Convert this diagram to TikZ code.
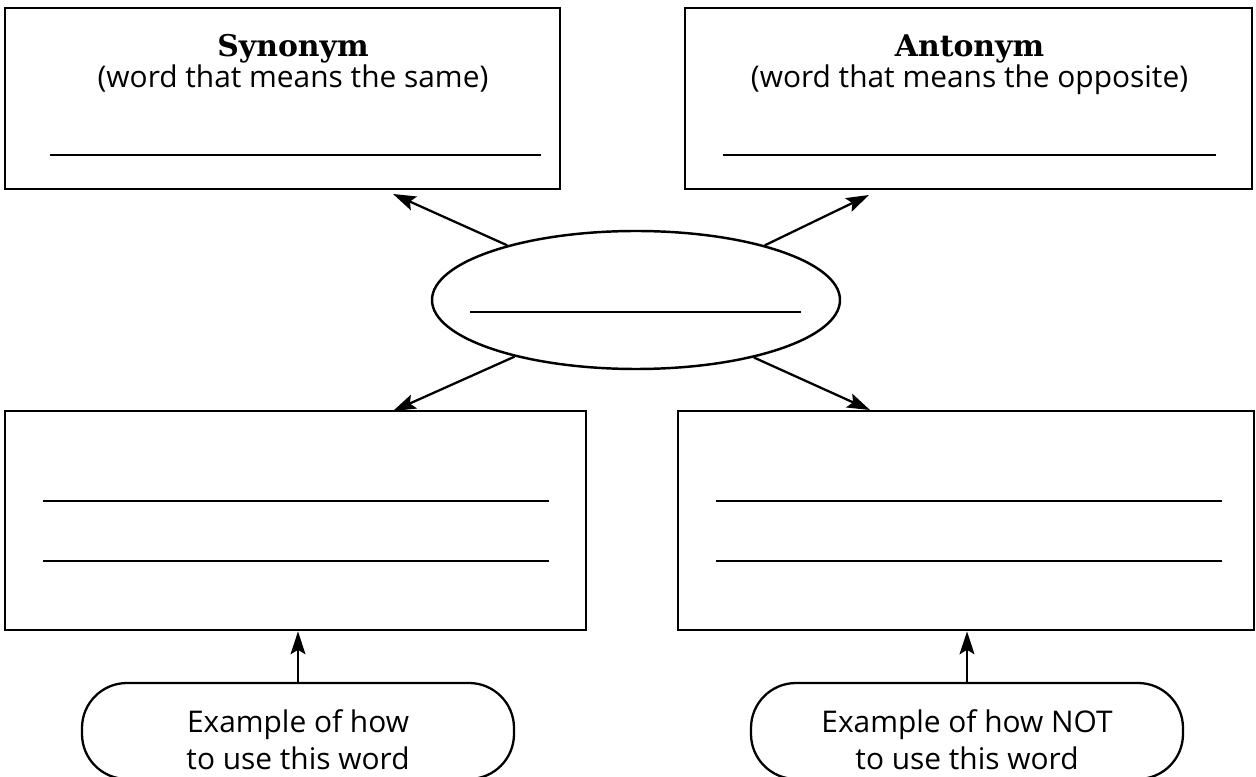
\documentclass[tikz,border=0pt]{standalone}
\usepackage{fontspec}
\setmainfont{Open Sans}
\newfontfamily\headfont{DejaVu Serif}
\usetikzlibrary{arrows.meta,shapes.geometric}

\begin{document}
\begin{tikzpicture}[
    box/.style={draw,line width=1.6pt,inner sep=0pt},
    tag/.style={draw,line width=1.3pt,rounded corners=0.9cm,inner sep=0pt},
    link/.style={line width=1.3pt,-{Stealth[length=13pt,width=8.5pt,inset=2.5pt]}},
    blank/.style={line width=1.4pt},
    head/.style={font=\headfont\bfseries\fontsize{17}{19}\selectfont,anchor=base},
    note/.style={font=\fontsize{17}{21}\selectfont,align=center}]
   \useasboundingbox (0,0) rectangle (25.12,-15.54);
   \clip (0,0) rectangle (25.12,-15.54);
   % top boxes
   \node[box,minimum width=11.1cm,minimum height=3.62cm] (syn) at (5.65,-1.97) {};
   \node[box,minimum width=11.34cm,minimum height=3.62cm] (ant) at (19.37,-1.97) {};
   \node[head] (synHead) at (5.86,-1.14) {Synonym};
   \node[note,anchor=base] (synSub) at (5.86,-1.76) {(word that means the same)};
   \node[head] (antHead) at (19.39,-1.14) {Antonym};
   \node[note,anchor=base] (antSub) at (19.39,-1.76) {(word that means the opposite)};
   \draw[blank,line width=0.9pt] (1.0,-3.1) -- (10.82,-3.1);
   \draw[blank,line width=0.9pt] (14.46,-3.1) -- (24.32,-3.1);
   % the word
   \node[draw,ellipse,line width=1.4pt,minimum width=8.16cm,minimum height=2.76cm] (word) at (12.72,-6.0) {};
   \draw[blank,line width=1.1pt] (9.4,-6.24) -- (16.02,-6.24);
   % bottom boxes
   \node[box,minimum width=11.62cm,minimum height=4.38cm] (use) at (5.91,-10.41) {};
   \node[box,minimum width=11.52cm,minimum height=4.38cm] (misuse) at (19.32,-10.41) {};
   \foreach \y in {-10.02,-11.22} {
      \draw[blank] (0.86,\y) -- (10.98,\y);
      \draw[blank] (14.32,\y) -- (24.44,\y);
   }
   % examples
   \node[tag,minimum width=8.64cm,minimum height=1.92cm] (exUse) at (5.96,-14.62) {};
   \node[tag,minimum width=8.64cm,minimum height=1.92cm] (exMisuse) at (19.34,-14.62) {};
   \node[note] (exUseText) at (5.96,-14.8) {Example of how\\to use this word};
   \node[note] (exMisuseText) at (19.34,-14.8) {Example of how NOT\\to use this word};
   % arrows
   \coordinate (synTip) at (7.86,-3.88);
   \coordinate (antTip) at (17.38,-3.9);
   \coordinate (useTip) at (7.86,-8.22);
   \coordinate (misuseTip) at (17.4,-8.2);
   \draw[link] (word.157) -- (synTip);
   \draw[link] (word.23) -- (antTip);
   \draw[link] (word.205) -- (useTip);
   \draw[link] (word.334) -- (misuseTip);
   \draw[link] (exUse.north) -- (exUse.north |- use.south);
   \draw[link] (exMisuse.north) -- (exMisuse.north |- misuse.south);
\end{tikzpicture}
\end{document}
